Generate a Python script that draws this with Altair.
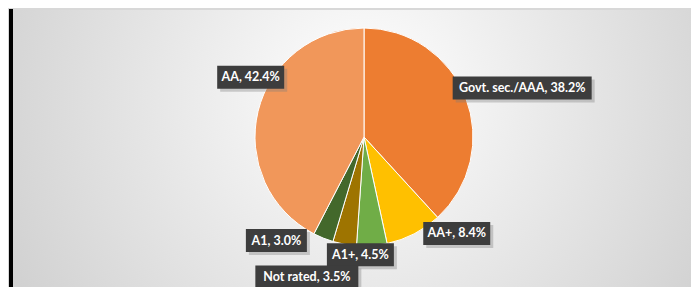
import altair as alt
import pandas as pd

# ---- data ----
categories = ["Govt. sec./AAA", "AA+", "A1+", "Not rated", "A1", "AA"]
shares = [38.2, 8.4, 4.5, 3.5, 3.0, 42.4]

# ---- style / layout ----
colors = ["#ED7D31", "#FFC000", "#70AD47", "#9E7400", "#43682B", "#F1975A"]
W, H = 683, 279
CX, CY, R = 355, 128, 109
R_LABEL = 130
# label nudges (px) relative to the slice mid-angle anchor
nudge_dx = [37, 33, -13, -34, -39, 13]
nudge_dy = [-2, -19, -12, 12, -17, -29]

df = pd.DataFrame({
    "cat": categories,
    "share": shares,
    "idx": list(range(len(categories))),
    "ndx": nudge_dx,
    "ndy": nudge_dy,
})

base = alt.Chart(df)

bg = alt.Chart(pd.DataFrame({"a": [0]})).mark_rect(
    fill=alt.RadialGradient(
        gradient="radial",
        stops=[alt.GradientStop(offset=0, color="#ffffff"),
               alt.GradientStop(offset=1, color="#c6c6c6")],
        x1=0.52, y1=0.42, x2=0.52, y2=0.42, r1=0, r2=0.72,
    ),
    stroke="#d8d8d8", strokeWidth=2,
).encode(x=alt.value(0), x2=alt.value(W), y=alt.value(0), y2=alt.value(H))

leftbar = alt.Chart(pd.DataFrame({"a": [0]})).mark_rect(color="#000000").encode(
    x=alt.value(0), x2=alt.value(4), y=alt.value(0), y2=alt.value(H)
)

pie = base.mark_arc(radius=R, stroke="#ffffff", strokeWidth=1).encode(
    theta=alt.Theta("share:Q", stack=True),
    order=alt.Order("idx:Q"),
    color=alt.Color("cat:N", sort=None,
                    scale=alt.Scale(domain=categories, range=colors), legend=None),
    x=alt.value(CX), y=alt.value(CY),
)

lab = base.transform_joinaggregate(total="sum(share)").transform_window(
    cum="sum(share)", sort=[alt.SortField("idx")], frame=[None, 0]
).transform_calculate(
    mid="(datum.cum - datum.share/2)/datum.total*2*PI"
).transform_calculate(
    lx=f"{CX} + {R_LABEL}*sin(datum.mid) + datum.ndx",
    ly=f"{CY} - {R_LABEL}*cos(datum.mid) + datum.ndy",
    label="datum.cat + ', ' + format(datum.share, '.1f') + '%'",
).transform_calculate(
    bw="6*length(datum.label) + 13"
).transform_calculate(
    bx="datum.lx - datum.bw/2", bx2="datum.lx + datum.bw/2",
    by="datum.ly - 11.5", by2="datum.ly + 11.5",
    sx="datum.lx - datum.bw/2 + 3", sx2="datum.lx + datum.bw/2 + 3",
    sy="datum.ly - 11.5 + 3", sy2="datum.ly + 11.5 + 3",
)

shadow = lab.mark_rect(color="#7a7a7a", opacity=0.35).encode(
    x=alt.X("sx:Q", scale=None, axis=None), x2="sx2:Q",
    y=alt.Y("sy:Q", scale=None, axis=None), y2="sy2:Q",
)
box = lab.mark_rect(color="#3d3d3d").encode(
    x=alt.X("bx:Q", scale=None, axis=None), x2="bx2:Q",
    y=alt.Y("by:Q", scale=None, axis=None), y2="by2:Q",
)
text = lab.mark_text(color="#ffffff", font="Lato", fontWeight="bold",
                     fontSize=12.5, align="center", baseline="middle").encode(
    x=alt.X("lx:Q", scale=None, axis=None),
    y=alt.Y("ly:Q", scale=None, axis=None),
    text="label:N",
)

chart = alt.layer(bg, leftbar, pie, shadow, box, text).properties(
    width=W, height=H,
    autosize=alt.AutoSizeParams(type="fit", contains="padding"),
    padding=0,
).configure_view(stroke=None)

chart.save("out.html", embed_options={"renderer": "svg", "actions": False})
